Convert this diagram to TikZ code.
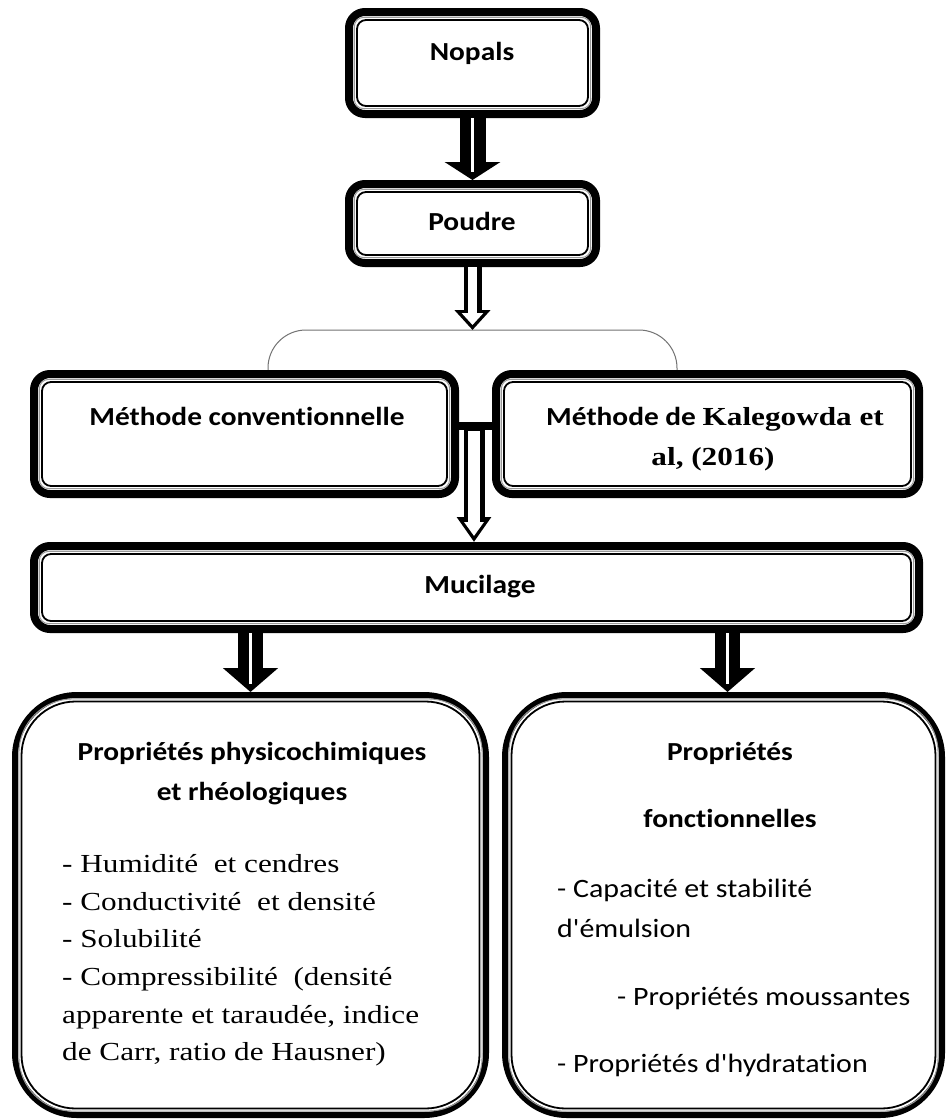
\documentclass[tikz,border=0pt]{standalone}
\usepackage{fontspec}
\setmainfont{Liberation Serif}[FakeStretch=1.2]
\newfontfamily\calfont{Carlito}[FakeStretch=1.13, Ligatures=NoCommon]
\usetikzlibrary{arrows.meta}
\newcommand\frameinset[3]{%
  \draw[black!40, line width=1pt, rounded corners=#3] ([shift={(#2-2.6,#2-2.6)}]#1.north west) rectangle ([shift={(-#2+2.6,-#2+2.6)}]#1.south east);
  \draw[line width=1.8pt, rounded corners=#3] ([shift={(#2,#2)}]#1.north west) rectangle ([shift={(-#2,-#2)}]#1.south east);}
\begin{document}
\begin{tikzpicture}[x=1pt,y=-1pt,
  box/.style={draw=black, fill=white, line width=8pt, rounded corners=16pt, inner sep=0pt},
  bigbox/.style={draw=black, fill=white, line width=6pt, rounded corners=62pt, inner sep=0pt},
  solidarr/.style={line width=25pt, -{Triangle[width=54pt,length=24pt]}},
  whitecore/.style={white, line width=3pt},
  ttl/.style={font=\calfont\bfseries\fontsize{26}{30}\selectfont, inner sep=0pt, anchor=base},
  lst/.style={font=\fontsize{26}{30}\selectfont, inner sep=0pt, anchor=base west},
  lstc/.style={font=\calfont\fontsize{26.5}{30}\selectfont, inner sep=0pt, anchor=base west},
  bracket/.style={draw=black!55, line width=1pt, rounded corners=38pt}]
\useasboundingbox (0,0) rectangle (946,1120);
\fill[white] (0,0) rectangle (946,1120);

% bracket
\coordinate (bL) at (268,372);
\coordinate (bR) at (677,372);
\coordinate (bT) at (472.5,330);
\draw[bracket] (bL) |- (bT) -| (bR);

% boxes
\node[box, minimum width=247pt, minimum height=102pt] (nopals) at (472.5,63) {};
\frameinset{nopals}{12}{9pt}
\node[box, minimum width=247pt, minimum height=79pt] (poudre) at (472.5,223.5) {};
\frameinset{poudre}{12}{9pt}
\node[box, minimum width=421pt, minimum height=120pt] (conv) at (244.5,434) {};
\frameinset{conv}{12}{9pt}
\node[box, minimum width=423pt, minimum height=120pt] (kale) at (707.5,434) {};
\frameinset{kale}{12}{9pt}
\node[box, minimum width=885pt, minimum height=83pt] (muc) at (476.5,587.5) {};
\frameinset{muc}{12}{9pt}
\node[bigbox, minimum width=471pt, minimum height=420pt] (phys) at (250.5,905) {};
\frameinset{phys}{9.5}{54pt}
\node[bigbox, minimum width=437pt, minimum height=420pt] (fonc) at (723.5,905) {};
\frameinset{fonc}{9.5}{54pt}

% arrows
\draw[solidarr, -{Triangle[width=55pt,length=18pt]}, line width=26pt] (nopals.south) -- (poudre.north);
\draw[whitecore, shorten >=8pt] (nopals.south) -- (poudre.north);

\draw[line width=18pt, -{Triangle[width=35pt,length=20pt]}] (poudre.south) -- (bT);
\draw[white, line width=9pt, -{Triangle[width=21pt,length=12pt]}, shorten >=5pt] (poudre.south) -- (bT);

\coordinate (hb) at (474,426);
\coordinate (hb2) at (474,431);
\draw[line width=21pt, -{Triangle[width=33pt,length=25pt]}] (hb) -- (muc.north -| hb);
\draw[white, line width=12pt, -{Triangle[width=19pt,length=14pt]}, shorten >=6pt] (hb2) -- (muc.north -| hb);
\draw[line width=8pt] (conv.east |- hb) -- (kale.west |- hb);

\coordinate (ra) at (727.5,650);
\draw[solidarr] (muc.south -| phys.north) -- (phys.north);
\draw[whitecore, shorten >=8pt] (muc.south -| phys.north) -- (phys.north);
\draw[solidarr] (muc.south -| ra) -- (fonc.north -| ra);
\draw[whitecore, shorten >=8pt] (muc.south -| ra) -- (fonc.north -| ra);

% texts
\node[ttl] (tnop) at (472,60) {Nopals};
\node[ttl] (tpou) at (472,230) {Poudre};
\node[ttl] (tconv) at (247,425) {Méthode conventionnelle};
\node[ttl] (tkal1) at (715,425) {Méthode de {\rmfamily Kalegowda et}};
\node[ttl, font=\rmfamily\bfseries\fontsize{26}{30}\selectfont] (tkal2) at (713,465) {al, (2016)};
\node[ttl] (tmuc) at (480,593) {Mucilage};
\node[ttl] (tph1) at (252,760) {Propriétés physicochimiques};
\node[ttl] (tph2) at (252,800) {et rhéologiques};
\node[ttl] (tfo1) at (730,760) {Propriétés};
\node[ttl] (tfo2) at (730,827) {fonctionnelles};

\node[lst] (l1) at (62,872) {- Humidité\ \ et cendres};
\node[lst] (l2) at (62,910) {- Conductivité\ \ et densité};
\node[lst] (l3) at (62,947) {- Solubilité};
\node[lst] (l4) at (62,985) {- Compressibilité\ \ (densité};
\node[lst] (l5) at (62,1023) {apparente\ et taraudée, indice};
\node[lst] (l6) at (62,1060) {de Carr, ratio\ de Hausner)};

\node[lstc] (r1) at (557,897) {- Capacité et stabilité};
\node[lstc] (r2) at (557,937) {d'émulsion};
\node[lstc] (r3) at (617,1005) {- Propriétés moussantes};
\node[lstc] (r4) at (557,1072) {- Propriétés d'hydratation};
\end{tikzpicture}
\end{document}
